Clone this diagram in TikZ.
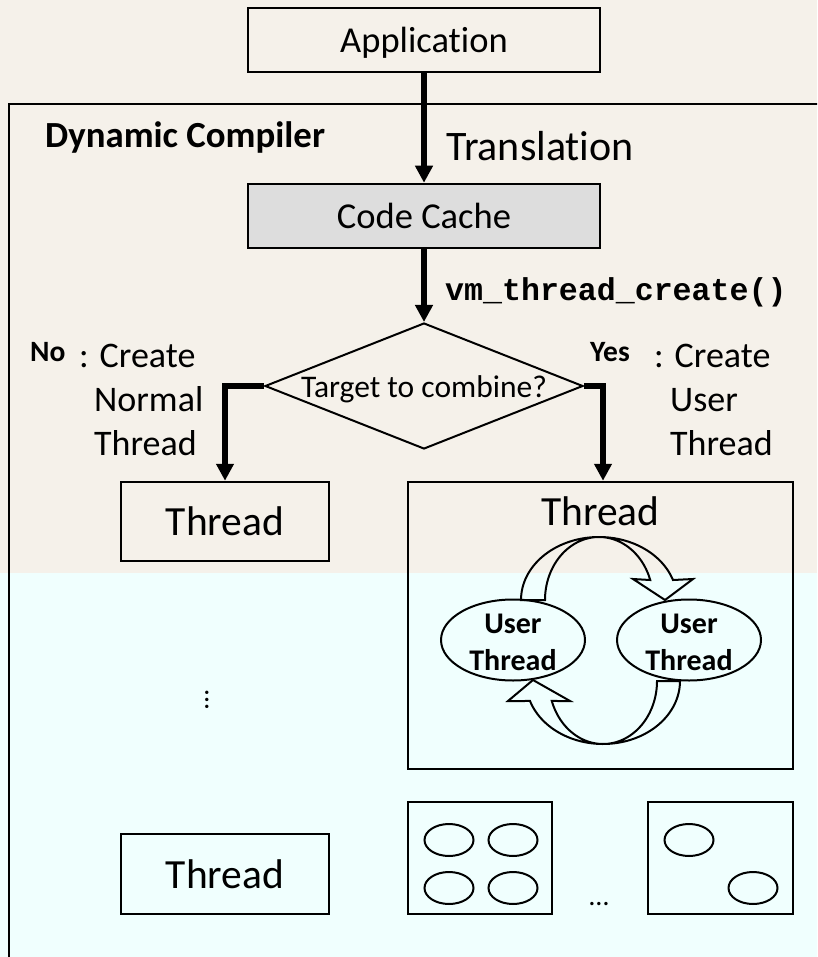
\documentclass[tikz,border=0pt]{standalone}
\usepackage{fontspec}
\setmainfont{Carlito}[Ligatures=NoCommon]
\newfontfamily\codefont{Liberation Mono}
\usetikzlibrary{shapes.geometric,arrows.meta}
\definecolor{paper}{HTML}{F5F1EA}
\definecolor{icebg}{HTML}{F0FFFE}
\definecolor{cachegray}{HTML}{DDDDDD}

\begin{document}
\begin{tikzpicture}[x=1pt,y=-1pt,
  box/.style={draw, line width=2.5pt, inner sep=0pt},
  flow/.style={line width=6pt, -{Triangle[length=17pt,width=17pt]}},
  band/.style={draw, line width=2pt, line join=miter},
  uthread/.style={draw, ellipse, line width=2pt, minimum width=144pt, minimum height=81pt, inner sep=0pt},
  slot/.style={draw, ellipse, line width=2pt, minimum width=49pt, minimum height=32pt, inner sep=0pt},
  txt/.style={inner sep=0pt},
  big/.style={font=\fontsize{36.5}{43}\selectfont},
  huge/.style={font=\fontsize{41.5}{48}\selectfont},
  side/.style={txt, anchor=base west, font=\fontsize{36}{42}\selectfont},
  tag/.style={txt, anchor=base west, font=\bfseries\fontsize{29.5}{32}\selectfont},
  utxt/.style={txt, anchor=base, font=\bfseries\fontsize{30}{36}\selectfont}]

\useasboundingbox (0,0) rectangle (817,957);
\clip (0,0) rectangle (817,957);

% two-tone background
\fill[paper] (0,0) rectangle (817,573);
\fill[icebg] (0,573) rectangle (817,957);

% dynamic compiler frame (runs off the right and bottom)
\draw[line width=2.5pt] (9,970) -- (9,104) -- (830,104);
\node[txt, anchor=base west, font=\bfseries\fontsize{36.8}{42}\selectfont] (dc) at (45,148) {Dynamic Compiler};

% top of the flow
\node[box, big, minimum width=352pt, minimum height=64pt, text height=26pt, text depth=0pt] (app) at (424,40) {Application};
\node[box, big, fill=cachegray, minimum width=352pt, minimum height=64pt, text height=26pt, text depth=0pt] (cc) at (424,216) {Code Cache};
\node[side, font=\fontsize{42}{48}\selectfont] (trans) at (446,161) {Translation};
\node[txt, anchor=base west, font=\codefont\bfseries\fontsize{31.6}{36}\selectfont] (vm) at (445,301) {vm\_thread\_create()};

% decision
\node[draw, diamond, line width=2pt, aspect=2.52, inner sep=0pt, minimum width=318pt, minimum height=126pt,
      font=\fontsize{31.5}{36}\selectfont, text height=22pt, text depth=0pt] (dia) at (424,386) {Target to combine?};

% branch labels
\node[tag] (no) at (30,361) {No};
\node[side] (nocreate) at (79,367) {: Create};
\node[side] (nonormal) at (94,411) {Normal};
\node[side] (nothread) at (94,455) {Thread};
\node[tag] (yes) at (590,361) {Yes};
\node[side] (yescreate) at (654,367) {: Create};
\node[side] (yesuser) at (670,411) {User};
\node[side] (yesthread) at (670,455) {Thread};

% threads
\node[box, huge, minimum width=208pt, minimum height=79pt, text height=27pt, text depth=0pt] (lt) at (225,521.5) {Thread};
\node[box, minimum width=385pt, minimum height=287pt] (rt) at (600.5,625.5) {};
\node[txt, huge, anchor=base] (rtitle) at (600.5,525) {Thread};
\node[box, huge, minimum width=208pt, minimum height=80pt, text height=28pt, text depth=0pt] (bt) at (225,874) {Thread};

% connectors
\draw[flow] (app) -- (cc);
\draw[flow] (cc) -- (dia);
\draw[flow] (dia.west) -| (lt.north);
\draw[flow] (dia.east) -| ([xshift=2.5pt]rt.north);

% user-thread switching arrows
\draw[band] plot[domain=180:18.5, samples=60] ({599+78*cos(\x)},{600-63*sin(\x)})
  -- (693,579) -- (665,600) -- (633,579)
  -- plot[domain=18.5:180, samples=60] ({599+54*cos(\x)},{600-63*sin(\x)}) -- cycle;
\draw[band] plot[domain=0:161.5, samples=60] ({603+77*cos(\x)},{681+63*sin(\x)})
  -- (508,701) -- (533,680) -- (570,701)
  -- plot[domain=161.5:0, samples=60] ({603+54*cos(\x)},{681+63*sin(\x)}) -- cycle;

% user threads
\node[uthread] (u1) at (513,640) {};
\node[uthread] (u2) at (689,640) {};
\node[utxt] (u1a) at (513,633) {User};
\node[utxt] (u1b) at (513,670) {Thread};
\node[utxt] (u2a) at (689,633) {User};
\node[utxt] (u2b) at (689,670) {Thread};

% more threads below
\node[txt, rotate=90, font=\fontsize{28}{30}\selectfont] (vdots) at (207,700) {…};
\node[box, minimum width=144pt, minimum height=112pt] (g4) at (480,858) {};
\node[box, minimum width=145pt, minimum height=112pt] (g2) at (720.5,858) {};
\node[slot] (s1) at (449,840) {};
\node[slot] (s2) at (513,840) {};
\node[slot] (s3) at (449,888) {};
\node[slot] (s4) at (513,888) {};
\node[slot] (s5) at (689,840) {};
\node[slot] (s6) at (753,888) {};
\node[txt, font=\fontsize{28}{30}\selectfont] (hdots) at (599,904) {…};
\end{tikzpicture}
\end{document}
